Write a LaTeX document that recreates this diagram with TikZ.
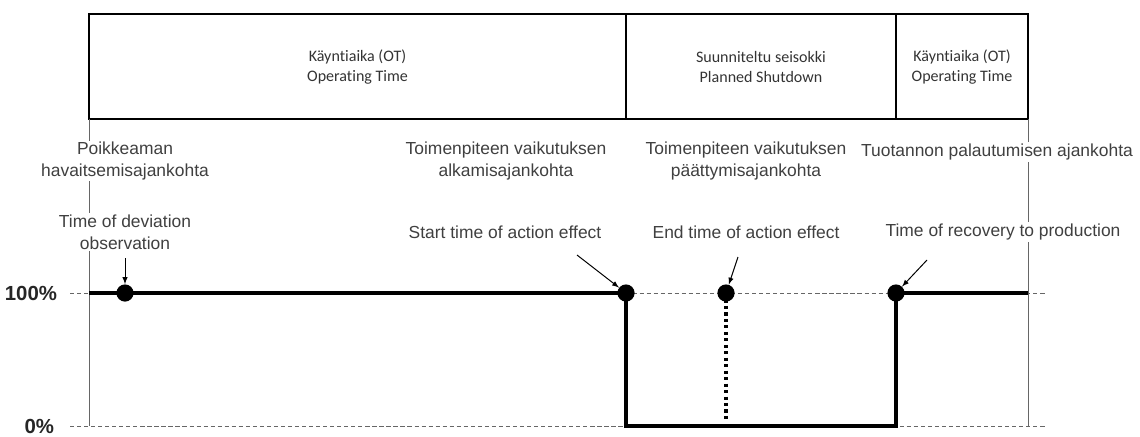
\documentclass[tikz,border=0pt]{standalone}
\usepackage{fontspec}
\setmainfont{Liberation Sans}
\newfontfamily\boxfont[RawFeature={-liga;-clig;-calt;-dlig}]{Carlito}
\usetikzlibrary{calc}

\begin{document}
\begin{tikzpicture}[x=0.025cm,y=-0.025cm]
  \tikzset{
    dot/.style={circle,fill=black,inner sep=0pt,minimum size=0.43cm},
    lbl/.style={align=center,fill=white,inner sep=1pt,text=black!75,
      font=\fontsize{12.4}{15.4}\selectfont},
    boxlbl/.style={align=center,text=black!80,
      font=\boxfont\fontsize{11.4}{13.6}\selectfont},
    pct/.style={anchor=east,text=black!85,font=\bfseries\fontsize{14.5}{16}\selectfont},
    guide/.style={black!60,line width=0.6pt},
    level/.style={black!60,line width=0.5pt,dash pattern=on 3pt off 2pt},
    signal/.style={line width=2.4pt},
    pointer/.style={-latex,line width=0.7pt}
  }
  \useasboundingbox (0,0) rectangle (1140,436);
  % time periods
  \draw[line width=1.1pt] (89,14) rectangle (1028,119);
  \draw[line width=1.1pt] (626,14) -- (626,119);
  \draw[line width=1.1pt] (896,14) -- (896,119);
  \node[boxlbl] (ot1) at (357.5,67) {Käyntiaika (OT)\\Operating Time};
  \node[boxlbl] (sd) at (761,67) {Suunniteltu seisokki\\Planned Shutdown};
  \node[boxlbl] (ot2) at (962,67) {Käyntiaika (OT)\\Operating Time};
  % levels
  \coordinate (l100) at (89,293);
  \coordinate (r100) at (1028,293);
  \coordinate (z0) at (89,426);
  \draw[level] (70,293) -- (1047,293);
  \draw[level] (70,426) -- (1047,426);
  \node[pct] (p100) at (62,293) {100\%};
  \node[pct] (p0) at (59,426) {0\%};
  \draw[guide] (89,119) -- (z0);
  \draw[guide] (1028,119) -- (1028,426);
  % signal
  \draw[signal] (l100) -- (626,293) -- (626,426) -- (896,426) -- (896,293) -- (r100);
  \draw[line width=2.2pt,dash pattern=on 2.2pt off 2.4pt] (726,293) -- (726,421);
  \node[dot] (obs) at (125,293) {};
  \node[dot] (start) at (626,293) {};
  \node[dot] (end) at (726,293) {};
  \node[dot] (recov) at (896,293) {};
  % labels
  \node[lbl] (obsfi) at (125,161) {Poikkeaman\\havaitsemisajankohta};
  \node[lbl] (obsen) at (125,232) {Time of deviation\\observation};
  \node[lbl] (startfi) at (506,161) {Toimenpiteen vaikutuksen\\alkamisajankohta};
  \node[lbl] (starten) at (505,232) {Start time of action effect};
  \node[lbl] (endfi) at (746,161) {Toimenpiteen vaikutuksen\\päättymisajankohta};
  \node[lbl] (enden) at (746,232) {End time of action effect};
  \node[lbl] (recfi) at (997,152) {Tuotannon palautumisen ajankohta};
  \node[lbl] (recen) at (1003,232) {Time of recovery to production};
  % pointers
  \coordinate (obsp) at (125,258);
  \coordinate (startp) at (577,255);
  \coordinate (endp) at (738,257);
  \coordinate (recp) at (927,260);
  \draw[pointer] (obsp) -- (obs);
  \draw[pointer] (startp) -- (start);
  \draw[pointer] (endp) -- (end);
  \draw[pointer] (recp) -- (recov);
\end{tikzpicture}
\end{document}
